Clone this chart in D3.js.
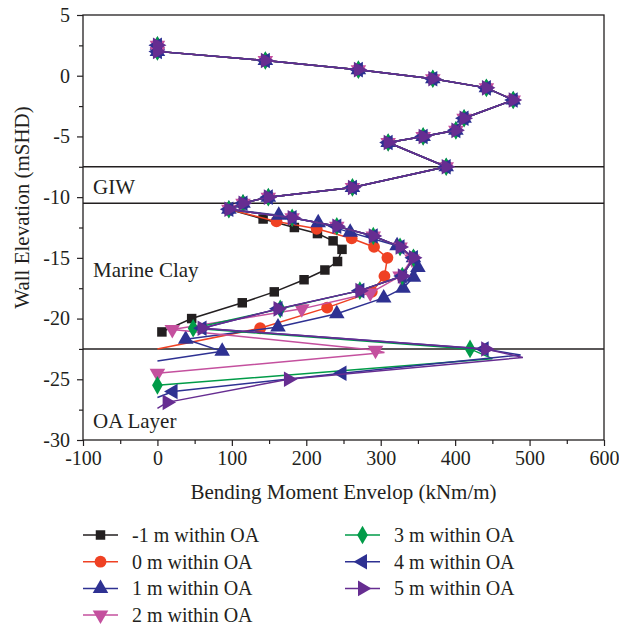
<!DOCTYPE html>
<html>
<head>
<meta charset="utf-8">
<script src="https://cdn.jsdelivr.net/npm/d3@7"></script>
<style>
    body { margin: 0; background: #fff; }
    svg text { font-family: "Liberation Serif", "Times New Roman", serif; fill: #231f20; }
</style>
</head>
<body>
<div id="chart"></div>
<script>
// shared upper part of every profile [moment, elevation, marker]
const topNodes = [
    [0, 2.5, 1], [0, 2.0, 1], [145, 1.25, 1], [270, 0.5, 1], [370, -0.25, 1], [442, -1.0, 1],
    [478, -2.0, 1], [412, -3.5, 1], [401, -4.5, 1], [357, -5.0, 1], [310, -5.5, 1], [388, -7.5, 1],
    [262, -9.2, 1], [149, -10.0, 1], [115, -10.5, 1], [96, -11.0, 1]
];

const minus1m = [
    [142, -11.8, 1], [184, -12.5, 1], [215, -13.0, 1], [236, -13.6, 1], [248, -14.3, 1], [242, -15.3, 1],
    [225, -16.0, 1], [197, -16.8, 1], [157, -17.8, 1], [114, -18.7, 1], [46, -20.0, 1], [6, -21.1, 1]
];
const zero_m = [
    [160, -12.0, 1], [214, -12.6, 1], [261, -13.4, 1], [291, -14.1, 1], [309, -15.0, 1], [305, -16.5, 1],
    [288, -17.8, 1], [228, -19.1, 1], [138, -20.8, 1], [0, -22.5, 0]
];
const one_m = [
    [163, -11.5, 1], [216, -12.1, 1], [259, -12.9, 1], [322, -14.0, 1], [344, -15.0, 1], [350, -15.8, 1],
    [344, -16.6, 1], [330, -17.5, 1], [304, -18.3, 1], [241, -19.6, 1], [162, -20.7, 1], [38, -21.7, 1],
    [87, -22.7, 1], [0, -23.5, 0]
];
const two_m = [
    [181, -11.7, 1], [241, -12.4, 1], [290, -13.2, 1], [326, -14.1, 1], [342, -15.1, 1], [326, -16.5, 1],
    [286, -17.9, 1], [194, -19.2, 1], [20, -20.9, 1], [293, -22.6, 1], [305, -22.8, 0], [0, -24.5, 1]
];
const three_m = [
    [181, -11.7, 1], [241, -12.4, 1], [290, -13.2, 1], [326, -14.1, 1], [344, -15.0, 1], [329, -16.5, 1],
    [272, -17.7, 1], [165, -19.2, 1], [48, -20.8, 1], [420, -22.5, 1], [450, -23.3, 0], [0, -25.5, 1]
];
const four_m = [
    [181, -11.7, 1], [241, -12.4, 1], [290, -13.2, 1], [326, -14.1, 1], [344, -15.0, 1], [329, -16.5, 1],
    [272, -17.7, 1], [162, -19.2, 1], [60, -20.8, 1], [439, -22.5, 1], [488, -23.0, 0], [248, -24.5, 1],
    [21, -26.0, 1], [0, -26.5, 0]
];
const five_m = [
    [181, -11.7, 1], [241, -12.4, 1], [290, -13.2, 1], [326, -14.1, 1], [344, -15.0, 1], [329, -16.5, 1],
    [272, -17.7, 1], [162, -19.2, 1], [60, -20.8, 1], [441, -22.5, 1], [491, -23.2, 0], [176, -25.0, 1],
    [13, -26.9, 1], [0, -27.4, 0]
];

const seriesNames = ["-1 m within OA", "0 m within OA", "1 m within OA", "2 m within OA",
    "3 m within OA", "4 m within OA", "5 m within OA"];
const seriesData = [minus1m, zero_m, one_m, two_m, three_m, four_m, five_m];
const seriesColors = ["#231f20", "#ef4123", "#2e3192", "#c4509e", "#009b48", "#2e3192", "#662d91"];
const seriesSymbols = ["square", "circle", "up", "down", "diamond", "left", "right"];

const layerLines = [-7.5, -10.5, -22.5];
const layerLabels = [["GIW", -9.7], ["Marine Clay", -16.6], ["OA Layer", -29.0]];

const xTicks = [-100, 0, 100, 200, 300, 400, 500, 600];
const yTicks = [5, 0, -5, -10, -15, -20, -25, -30];

const W = 619, H = 626;
const margin = {top: 15, right: 15, bottom: 186, left: 83};
const pw = W - margin.left - margin.right;
const ph = H - margin.top - margin.bottom;

const x = d3.scaleLinear().domain([-100, 600]).range([0, pw]);
const y = d3.scaleLinear().domain([-30, 5]).range([ph, 0]);

const svg = d3.select("#chart").append("svg")
    .attr("width", W).attr("height", H);
const g = svg.append("g").attr("transform", "translate(" + margin.left + "," + margin.top + ")");

svg.append("defs").append("clipPath").attr("id", "clip")
    .append("rect").attr("width", pw).attr("height", ph);

// layer boundaries
g.selectAll(".layer").data(layerLines).enter().append("line")
    .attr("x1", 0).attr("x2", pw)
    .attr("y1", d => y(d)).attr("y2", d => y(d))
    .attr("stroke", "#231f20").attr("stroke-width", 1.6);

g.selectAll(".layerLabel").data(layerLabels).enter().append("text")
    .attr("x", 10).attr("y", d => y(d[1]))
    .attr("font-size", 21)
    .text(d => d[0]);

function symbolPath(type) {
    const size = type === "circle" ? 110 : type === "square" ? 90 : type === "diamond" ? 100 : 105;
    let s = d3.symbolTriangle;
    if (type === "circle") s = d3.symbolCircle;
    if (type === "square") s = d3.symbolSquare;
    if (type === "diamond") s = d3.symbolDiamond;
    return d3.symbol().type(s).size(size)();
}
function rotation(type) {
    return type === "down" ? 180 : type === "left" ? -90 : type === "right" ? 90 : 0;
}

const line = d3.line().x(d => x(d[0])).y(d => y(d[1]));

const plot = g.append("g").attr("clip-path", "url(#clip)");

seriesData.forEach((data, i) => {
    const pts = topNodes.concat(data);
    const sg = plot.append("g");
    sg.append("path")
        .datum(pts)
        .attr("fill", "none")
        .attr("stroke", seriesColors[i])
        .attr("stroke-width", 1.5)
        .attr("d", line);
    sg.selectAll("path.mk").data(pts.filter(d => d[2])).enter().append("path")
        .attr("class", "mk")
        .attr("d", symbolPath(seriesSymbols[i]))
        .attr("fill", seriesColors[i])
        .attr("transform", d => "translate(" + x(d[0]) + "," + y(d[1]) + ") rotate(" + rotation(seriesSymbols[i]) + ")");
});

// frame
g.append("rect").attr("width", pw).attr("height", ph)
    .attr("fill", "none").attr("stroke", "#231f20").attr("stroke-width", 1.3);

// axes
const xAxis = d3.axisBottom(x).tickValues(xTicks).tickSize(6).tickPadding(5).tickFormat(d3.format("d"));
const yAxis = d3.axisLeft(y).tickValues(yTicks).tickSize(6).tickPadding(7).tickFormat(d3.format("d"));

const gx = g.append("g").attr("transform", "translate(0," + ph + ")").call(xAxis);
const gy = g.append("g").call(yAxis);

g.append("g").attr("transform", "translate(0," + ph + ")")
    .call(d3.axisBottom(x).tickValues(d3.range(-50, 600, 100)).tickSize(4).tickFormat(""));
g.append("g")
    .call(d3.axisLeft(y).tickValues(d3.range(2.5, -30, -5)).tickSize(4).tickFormat(""));

g.selectAll(".domain").remove();
g.selectAll(".tick line").attr("stroke", "#231f20").attr("stroke-width", 1.2);
g.selectAll(".tick text").attr("font-size", 20).attr("font-family", "Liberation Serif").attr("fill", "#231f20");
gx.selectAll(".tick text").text(d => d < 0 ? "-" + Math.abs(d) : d);
gy.selectAll(".tick text").text(d => d < 0 ? "-" + Math.abs(d) : d);

// axis titles
svg.append("text")
    .attr("x", margin.left + pw / 2).attr("y", 499)
    .attr("text-anchor", "middle").attr("font-size", 21)
    .text("Bending Moment Envelop (kNm/m)");

svg.append("text")
    .attr("transform", "translate(29," + (margin.top + ph / 2 - 20) + ") rotate(-90)")
    .attr("text-anchor", "middle").attr("font-size", 21)
    .text("Wall Elevation (mSHD)");

// legend
const legend = svg.append("g");
seriesNames.forEach((name, i) => {
    const col = i < 4 ? 0 : 1;
    const row = i < 4 ? i : i - 4;
    const lx = col === 0 ? 83 : 345;
    const ly = 535 + row * 26.7;
    const item = legend.append("g").attr("transform", "translate(" + lx + "," + ly + ")");
    item.append("line").attr("x1", 0).attr("x2", 35).attr("y1", 0).attr("y2", 0)
        .attr("stroke", seriesColors[i]).attr("stroke-width", 1.5);
    item.append("path").attr("d", symbolPath(seriesSymbols[i]))
        .attr("fill", seriesColors[i])
        .attr("transform", "translate(17.5,0) rotate(" + rotation(seriesSymbols[i]) + ")");
    item.append("text").attr("x", 49).attr("y", 7).attr("font-size", 20).text(name);
});
</script>
</body>
</html>
